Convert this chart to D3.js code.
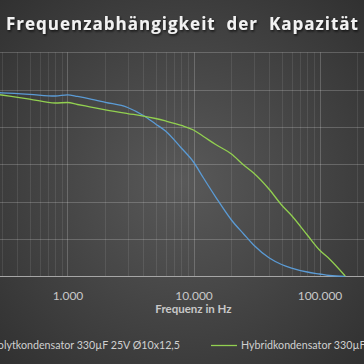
<!DOCTYPE html>
<html>
<head>
<meta charset="utf-8">
<script src="https://cdn.jsdelivr.net/npm/d3@7"></script>
<style>
  html, body { margin: 0; padding: 0; background: #3a3a3a; overflow: hidden; }
  svg { display: block; }
</style>
</head>
<body>
<script>
var frequencies = [100, 200, 300, 500, 800, 1000, 1200, 1500, 2000, 3000, 4000, 5000, 6000, 8000,
                   10000, 12000, 15000, 20000, 25000, 30000, 40000, 50000, 60000, 80000,
                   100000, 120000, 160000];
var elkoValues = [297.5, 296.2, 294.9, 292.5, 289.8, 291.7, 289.0, 285.3, 279.6, 271.3, 258.4, 244.8, 233.5, 206.2,
                  183.7, 158.0, 127.4, 90.5, 68.0, 50.3, 29.4, 19.0, 13.3, 6.9,
                  3.7, 1.3, 0];
var hybridValues = [300.0, 296.5, 291.4, 284.9, 278.5, 279.3, 276.1, 272.4, 267.6, 261.6, 257.6, 253.6, 249.6, 242.4,
                    235.1, 224.7, 211.8, 196.6, 178.9, 166.0, 139.5, 114.6, 97.7, 66.4,
                    42.3, 27.8, 0.5];
var seriesNames = ["Elektrolytkondensator 330µF 25V Ø10x12,5",
                   "Hybridkondensator 330µF 25V Ø10x12,5"];
var seriesColors = ["#5b9bd5", "#92d050"];
var xTickValues = [100, 1000, 10000, 100000, 1000000];
var xLabelValues = [1000, 10000, 100000];
var yTickValues = [0, 60, 120, 180, 240, 300, 360];

var width = 364,
    height = 364;
// The original chart is wider than the picture, so the plot runs past both edges.
var plot = {left: -58.5, right: 445.5, top: 52.3, bottom: 276.3};

var de = d3.formatLocale({decimal: ",", thousands: ".", grouping: [3], currency: ["", " €"]});
var formatHz = de.format(",d");

var svg = d3.select("body")
            .append("svg")
            .attr("width", width)
            .attr("height", height);

var defs = svg.append("defs");
var bg = defs.append("radialGradient")
             .attr("id", "bg")
             .attr("cx", "50%").attr("cy", "50%").attr("r", "72%");
bg.append("stop").attr("offset", "0%").attr("stop-color", "#595959");
bg.append("stop").attr("offset", "100%").attr("stop-color", "#303030");

var shadow = defs.append("filter").attr("id", "shadow");
shadow.append("feDropShadow")
      .attr("dx", 1).attr("dy", 1.5).attr("stdDeviation", 1.2)
      .attr("flood-color", "#000").attr("flood-opacity", 0.7);

svg.append("rect")
   .attr("width", width)
   .attr("height", height)
   .attr("fill", "url(#bg)");

// Scales
var xScale = d3.scaleLog()
               .domain([100, 1000000])
               .range([plot.left, plot.right]);
var yScale = d3.scaleLinear()
               .domain([0, 360])
               .range([plot.bottom, plot.top]);

// Vertical gridlines, minor ones for 2..9 of each decade
var grid = svg.append("g").attr("class", "grid");
grid.selectAll("line.vminor")
    .data(xScale.ticks().filter(function(d) { return xTickValues.indexOf(d) < 0; }))
    .enter()
    .append("line")
    .attr("x1", function(d) { return Math.round(xScale(d)) + 0.5; })
    .attr("x2", function(d) { return Math.round(xScale(d)) + 0.5; })
    .attr("y1", plot.top)
    .attr("y2", plot.bottom)
    .attr("stroke", "#ffffff")
    .attr("stroke-opacity", 0.09);
grid.selectAll("line.vmajor")
    .data(xTickValues)
    .enter()
    .append("line")
    .attr("x1", function(d) { return Math.round(xScale(d)) + 0.5; })
    .attr("x2", function(d) { return Math.round(xScale(d)) + 0.5; })
    .attr("y1", plot.top)
    .attr("y2", plot.bottom)
    .attr("stroke", "#ffffff")
    .attr("stroke-opacity", 0.2);
grid.selectAll("line.h")
    .data(yTickValues.slice(1))
    .enter()
    .append("line")
    .attr("x1", 0)
    .attr("x2", width)
    .attr("y1", function(d) { return Math.round(yScale(d)) + 0.5; })
    .attr("y2", function(d) { return Math.round(yScale(d)) + 0.5; })
    .attr("stroke", "#ffffff")
    .attr("stroke-opacity", 0.2);

// x axis, tick labels in German number format (only the ones inside the picture)
var xAxis = d3.axisBottom(xScale)
              .tickValues(xLabelValues)
              .tickFormat(formatHz)
              .tickSize(0)
              .tickPadding(15);
var gx = svg.append("g")
            .attr("transform", "translate(0," + Math.round(plot.bottom) + ")")
            .call(xAxis);
gx.select(".domain").remove();
gx.selectAll("text")
  .attr("fill", "#c8c8c8")
  .style("font-family", "Lato, 'Open Sans', sans-serif")
  .style("font-size", "12px");
svg.append("line")
   .attr("x1", 0)
   .attr("x2", width)
   .attr("y1", Math.round(plot.bottom) + 0.5)
   .attr("y2", Math.round(plot.bottom) + 0.5)
   .attr("stroke", "#a6a6a6")
   .attr("stroke-width", 1);

// Lines
var line = d3.line()
             .x(function(d) { return xScale(d[0]); })
             .y(function(d) { return yScale(d[1]); })
             .curve(d3.curveMonotoneX);
[elkoValues, hybridValues].forEach(function(values, i) {
    svg.append("path")
       .datum(frequencies.map(function(f, j) { return [f, values[j]]; }))
       .attr("fill", "none")
       .attr("stroke", seriesColors[i])
       .attr("stroke-width", 1.3)
       .attr("d", line);
});

// Title and axis title
svg.append("text")
   .attr("x", 182)
   .attr("y", 30)
   .attr("text-anchor", "middle")
   .attr("textLength", 352)
   .attr("lengthAdjust", "spacing")
   .attr("fill", "#f2f2f2")
   .attr("filter", "url(#shadow)")
   .style("font-family", "'Open Sans', sans-serif")
   .style("font-weight", "bold")
   .style("font-size", "17px")
   .style("white-space", "pre")
   .text("Frequenzabhängigkeit  der  Kapazität");

svg.append("text")
   .attr("x", (plot.left + plot.right) / 2)
   .attr("y", 313)
   .attr("text-anchor", "middle")
   .attr("fill", "#c8c8c8")
   .style("font-family", "Lato, 'Open Sans', sans-serif")
   .style("font-weight", "bold")
   .style("font-size", "11.5px")
   .text("Frequenz in Hz");

// Legend (cut by the picture edges, as in the original)
var legend = svg.append("g").attr("class", "legend");
var legendText = [{x: 180, anchor: "end"}, {x: 241, anchor: "start"}];
seriesNames.forEach(function(name, i) {
    var t = legend.append("text")
                  .attr("x", legendText[i].x)
                  .attr("y", 349)
                  .attr("text-anchor", legendText[i].anchor)
                  .attr("fill", "#d0d0d0")
                  .style("font-family", "Lato, 'Open Sans', sans-serif")
                  .style("font-size", "10.7px")
                  .text(name);
    var bb = t.node().getBBox();
    legend.append("line")
          .attr("x1", bb.x - 30)
          .attr("x2", bb.x - 4)
          .attr("y1", 345.5)
          .attr("y2", 345.5)
          .attr("stroke", seriesColors[i])
          .attr("stroke-width", 1.3);
});
</script>
</body>
</html>
